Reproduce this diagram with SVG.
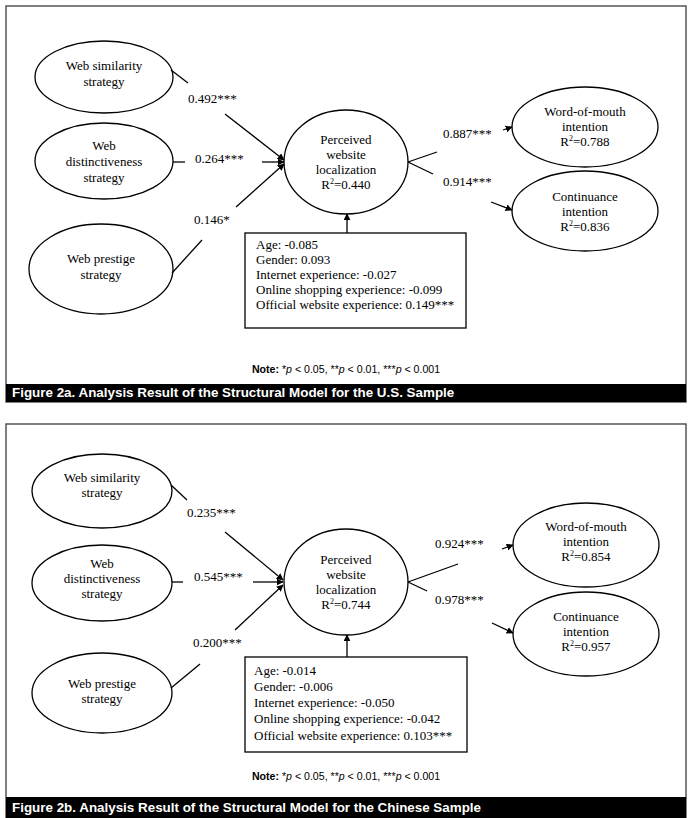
<svg xmlns="http://www.w3.org/2000/svg" width="692" height="818" viewBox="0 0 692 818">
<style>
.frame{fill:#fff;stroke:#555;stroke-width:1.5}
.bar{fill:#000}
.cap{font-family:"Liberation Sans",Arial,sans-serif;font-weight:bold;font-size:13.4px;fill:#fff}
.note{font-family:"Liberation Sans",Arial,sans-serif;font-size:10.6px;fill:#000;text-anchor:middle}
.nd{fill:#fff;stroke:#000;stroke-width:1.3}
.t{font-family:"Liberation Serif","Times New Roman",serif;font-size:13px;fill:#000}
.c{text-anchor:middle}
.ln{stroke:#000;stroke-width:1.3;fill:none}
.ar{stroke:#000;stroke-width:1.3;fill:none;marker-end:url(#ah)}
</style>
<defs>
<marker id="ah" viewBox="0 0 10 10" refX="9" refY="5" markerWidth="7" markerHeight="7" markerUnits="userSpaceOnUse" orient="auto">
<path d="M0,0 L10,5 L0,10 z" fill="#000"/>
</marker>
</defs>
<rect width="692" height="818" fill="#fff"/>
<!-- Panel A -->
<g id="panelA">
<rect class="frame" x="6" y="6" width="680" height="396"/>
<rect class="bar" x="6" y="384" width="680" height="18"/>
<text class="cap" x="12" y="397">Figure 2a. Analysis Result of the Structural Model for the U.S. Sample</text>
<text class="note" x="346" y="373"><tspan font-weight="bold">Note:</tspan> *<tspan font-style="italic">p</tspan> &lt; 0.05, **<tspan font-style="italic">p</tspan> &lt; 0.01, ***<tspan font-style="italic">p</tspan> &lt; 0.001</text>
</g>
<g id="a-sim"><ellipse class="nd" cx="104" cy="77" rx="69" ry="36"/><text class="t c" x="104" y="70">Web similarity</text><text class="t c" x="104" y="86">strategy</text></g>
<g id="a-dist"><ellipse class="nd" cx="104" cy="161" rx="69" ry="38"/><text class="t c" x="104" y="150">Web</text><text class="t c" x="104" y="166">distinctiveness</text><text class="t c" x="104" y="182">strategy</text></g>
<g id="a-pres"><ellipse class="nd" cx="101" cy="269" rx="72" ry="45"/><text class="t c" x="101" y="263">Web prestige</text><text class="t c" x="101" y="279">strategy</text></g>
<g id="a-pwl"><ellipse class="nd" cx="346" cy="162" rx="62" ry="52"/><text class="t c" x="346" y="144">Perceived</text><text class="t c" x="346" y="159">website</text><text class="t c" x="346" y="174">localization</text><text class="t c" x="346" y="189">R<tspan font-size="8" dy="-5">2</tspan><tspan dy="5">=0.440</tspan></text></g>
<g id="a-wom"><ellipse class="nd" cx="585" cy="127" rx="73" ry="40"/><text class="t c" x="585" y="116">Word-of-mouth</text><text class="t c" x="585" y="131">intention</text><text class="t c" x="585" y="146">R<tspan font-size="8" dy="-5">2</tspan><tspan dy="5">=0.788</tspan></text></g>
<g id="a-cont"><ellipse class="nd" cx="585" cy="211" rx="73" ry="40"/><text class="t c" x="585" y="201">Continuance</text><text class="t c" x="585" y="216">intention</text><text class="t c" x="585" y="231">R<tspan font-size="8" dy="-5">2</tspan><tspan dy="5">=0.836</tspan></text></g>
<g id="a-ctrl"><rect class="nd" x="245" y="233" width="221" height="95"/>
<text class="t" x="256" y="249">Age: -0.085</text>
<text class="t" x="256" y="264">Gender: 0.093</text>
<text class="t" x="256" y="279">Internet experience: -0.027</text>
<text class="t" x="256" y="294">Online shopping experience: -0.099</text>
<text class="t" x="256" y="309">Official website experience: 0.149***</text></g>
<g id="a-connectors">
<path class="ln" d="M171,70 L188,83"/><path class="ar" d="M225,114 L284,160"/>
<path class="ln" d="M173,162 L185,162"/><path class="ar" d="M262,162 L284,162"/>
<path class="ln" d="M172,273 L202,240"/><path class="ar" d="M236,207 L284,164"/>
<path class="ln" d="M408,162 L437,152"/><path class="ln" d="M408,162 L433,174"/>
<path class="ar" d="M503,130 L512,127"/><path class="ar" d="M491,202 L512,210"/>
<path class="ar" d="M347,233 L347,214"/>
<text class="t" x="188" y="103">0.492***</text>
<text class="t" x="195" y="163">0.264***</text>
<text class="t" x="194" y="224">0.146*</text>
<text class="t" x="443" y="138">0.887***</text>
<text class="t" x="443" y="186">0.914***</text>
</g>
<!-- Panel B -->
<g id="panelB">
<rect class="frame" x="6" y="424" width="680" height="394"/>
<rect class="bar" x="6" y="797" width="680" height="21"/>
<text class="cap" x="12" y="812">Figure 2b. Analysis Result of the Structural Model for the Chinese Sample</text>
<text class="note" x="346" y="780"><tspan font-weight="bold">Note:</tspan> *<tspan font-style="italic">p</tspan> &lt; 0.05, **<tspan font-style="italic">p</tspan> &lt; 0.01, ***<tspan font-style="italic">p</tspan> &lt; 0.001</text>
</g>
<g id="b-sim"><ellipse class="nd" cx="102" cy="491" rx="70" ry="37"/><text class="t c" x="102" y="482">Web similarity</text><text class="t c" x="102" y="497">strategy</text></g>
<g id="b-dist"><ellipse class="nd" cx="102" cy="583" rx="70" ry="38"/><text class="t c" x="102" y="568">Web</text><text class="t c" x="102" y="583">distinctiveness</text><text class="t c" x="102" y="598">strategy</text></g>
<g id="b-pres"><ellipse class="nd" cx="102" cy="693" rx="70" ry="40"/><text class="t c" x="102" y="688">Web prestige</text><text class="t c" x="102" y="703">strategy</text></g>
<g id="b-pwl"><ellipse class="nd" cx="346" cy="582" rx="62" ry="53"/><text class="t c" x="346" y="564">Perceived</text><text class="t c" x="346" y="579">website</text><text class="t c" x="346" y="594">localization</text><text class="t c" x="346" y="609">R<tspan font-size="8" dy="-5">2</tspan><tspan dy="5">=0.744</tspan></text></g>
<g id="b-wom"><ellipse class="nd" cx="586" cy="545" rx="73" ry="42"/><text class="t c" x="586" y="531">Word-of-mouth</text><text class="t c" x="586" y="546">intention</text><text class="t c" x="586" y="561">R<tspan font-size="8" dy="-5">2</tspan><tspan dy="5">=0.854</tspan></text></g>
<g id="b-cont"><ellipse class="nd" cx="586" cy="634" rx="73" ry="42"/><text class="t c" x="586" y="621">Continuance</text><text class="t c" x="586" y="636">intention</text><text class="t c" x="586" y="651">R<tspan font-size="8" dy="-5">2</tspan><tspan dy="5">=0.957</tspan></text></g>
<g id="b-ctrl"><rect class="nd" x="245" y="657" width="222" height="95"/>
<text class="t" x="254" y="675">Age: -0.014</text>
<text class="t" x="254" y="691">Gender: -0.006</text>
<text class="t" x="254" y="707">Internet experience: -0.050</text>
<text class="t" x="254" y="723">Online shopping experience: -0.042</text>
<text class="t" x="254" y="740">Official website experience: 0.103***</text></g>
<g id="b-connectors">
<path class="ln" d="M171,485 L187,500"/><path class="ar" d="M225,532 L283,580"/>
<path class="ln" d="M172,582 L183,582"/><path class="ar" d="M253,582 L283,582"/>
<path class="ln" d="M171,688 L200,664"/><path class="ar" d="M235,630 L283,585"/>
<path class="ln" d="M408,582 L458,564"/><path class="ln" d="M408,582 L427,591"/>
<path class="ar" d="M502,549 L513,545"/><path class="ar" d="M492,623 L513,633"/>
<path class="ar" d="M347,657 L347,635"/>
<text class="t" x="187" y="517">0.235***</text>
<text class="t" x="194" y="581">0.545***</text>
<text class="t" x="193" y="647">0.200***</text>
<text class="t" x="435" y="548">0.924***</text>
<text class="t" x="435" y="604">0.978***</text>
</g>
</svg>
